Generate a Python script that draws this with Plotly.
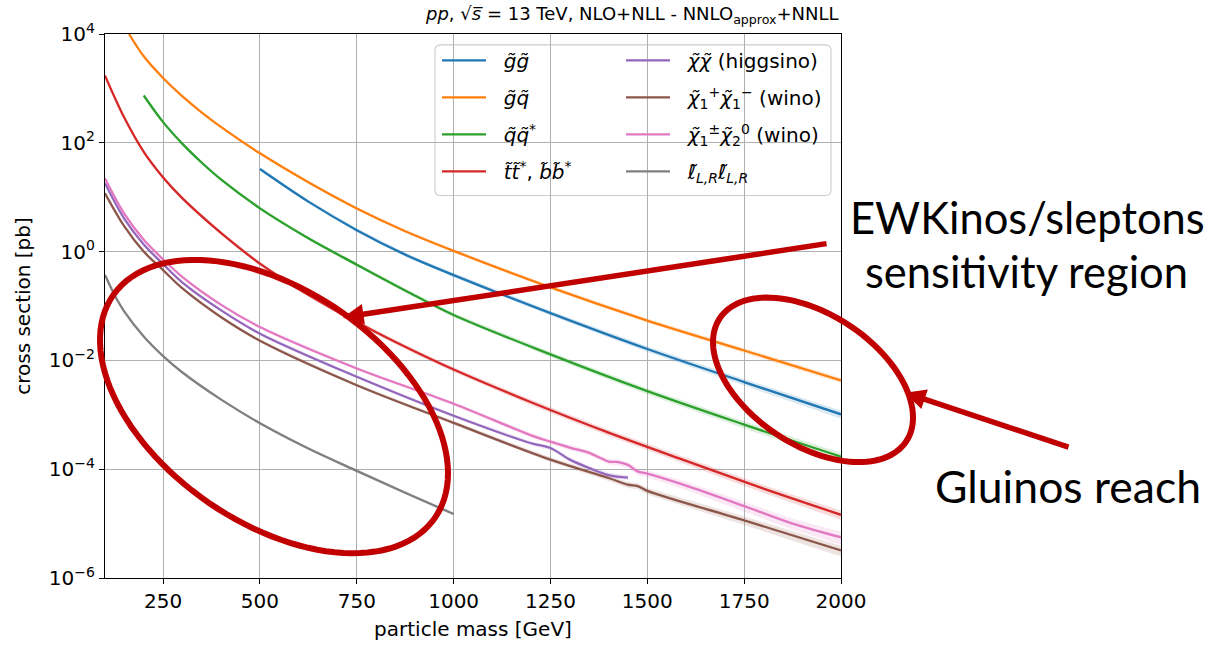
import numpy as np
import plotly.graph_objects as go

# ---------------- data ----------------
m_gg = [500, 625, 750, 875, 1000, 1250, 1500, 1750, 2000]
xs_gg = [33, 8.3, 2.48, 0.88, 0.37, 0.074, 0.0162, 0.0040, 0.00102]
unc_gg = [7, 7, 8, 8, 9, 10, 12, 14, 17]

m_gq = [162, 200, 250, 300, 350, 400, 500, 625, 750, 875, 1000, 1250, 1500, 1750, 2000]
xs_gq = [10000, 3890, 1550, 712, 359, 194, 64, 18.8, 6.2, 2.37, 1.03, 0.22, 0.054, 0.0152, 0.0043]
unc_gq = [5, 5, 5, 5, 5, 5, 5, 6, 6, 6, 7, 8, 9, 10, 12]

m_qq = [200, 250, 300, 350, 400, 500, 625, 750, 875, 1000, 1250, 1500, 1750, 2000]
xs_qq = [741, 240, 95.5, 43, 21, 6.24, 1.76, 0.575, 0.193, 0.0684, 0.0129, 0.00272, 6.6e-4, 1.7e-4]
unc_qq = [6, 6, 6, 6, 6, 7, 7, 8, 8, 9, 11, 13, 15, 18]

m_tt = [100, 150, 200, 250, 300, 400, 500, 600, 700, 800, 900, 1000, 1200, 1400, 1600, 1800, 2000]
xs_tt = [1720, 288, 68, 23, 9.5, 2.18, 0.60, 0.205, 0.079, 0.033, 0.0146, 0.0068, 0.0017,
         0.00047, 0.000142, 4.4e-5, 1.45e-5]
unc_tt = [7, 7, 7, 7, 7, 8, 8, 8, 9, 9, 10, 10, 12, 13, 15, 17, 19]

m_hh = [100, 150, 200, 250, 300, 400, 500, 750, 1000, 1200, 1250, 1300, 1350, 1400, 1450]
xs_hh = [18, 4.0, 1.35, 0.59, 0.27, 0.083, 0.031, 0.0050, 9.6e-4, 3.0e-4, 2.45e-4, 1.5e-4, 1.05e-4,
         7.8e-5, 7.0e-5]
unc_hh = [4, 4, 4, 4, 4, 5, 5, 6, 7, 8, 8, 9, 9, 10, 10]

m_c1c1 = [100, 150, 200, 250, 300, 400, 500, 750, 1000, 1250, 1400, 1450, 1475, 1500, 1750, 2000]
xs_c1c1 = [11.8, 2.9, 1.0, 0.457, 0.21, 0.062, 0.023, 0.0035, 7.1e-4, 1.5e-4, 6.9e-5, 5.2e-5, 4.9e-5,
           4.0e-5, 1.15e-5, 3.2e-6]
unc_c1c1 = [4, 4, 4, 4, 4, 5, 5, 6, 8, 10, 12, 13, 13, 14, 18, 22]

m_c1n2 = [100, 150, 200, 250, 300, 400, 500, 750, 1000, 1200, 1250, 1300, 1350, 1375, 1400, 1425,
          1450, 1475, 1500, 1600, 1750, 1875, 2000]
xs_c1n2 = [22, 4.92, 1.65, 0.72, 0.34, 0.105, 0.041, 0.0071, 0.0016, 4.2e-4, 3.2e-4, 2.5e-4, 2.0e-4,
           1.66e-4, 1.38e-4, 1.35e-4, 1.2e-4, 9.1e-5, 8.3e-5, 5.0e-5, 2.1e-5, 1.0e-5, 5.6e-6]
unc_c1n2 = [4, 4, 4, 4, 4, 5, 5, 6, 8, 10, 10, 11, 11, 12, 12, 13, 13, 14, 14, 17, 20, 23, 27]

m_ll = [100, 125, 150, 200, 250, 300, 400, 500, 625, 750, 875, 1000]
xs_ll = [0.37, 0.158, 0.079, 0.0275, 0.012, 0.0060, 0.0019, 7.0e-4, 2.4e-4, 9.3e-5, 3.7e-5, 1.5e-5]
unc_ll = [3, 3, 3, 3, 4, 4, 4, 5, 5, 6, 6, 7]

NB = "\u00a0\u00a0"
labels = [
    NB + "<i>g̃g̃</i>",
    NB + "<i>g̃q̃</i>",
    NB + "<i>q̃q̃</i><sup>*</sup>",
    NB + "<i>t̃t̃</i><sup>*</sup>, <i>b̃b̃</i><sup>*</sup>",
    NB + "<i>χ̃χ̃</i> (higgsino)",
    NB + "<i>χ̃</i><sub>1</sub><sup>+</sup><i>χ̃</i><sub>1</sub><sup>−</sup> (wino)",
    NB + "<i>χ̃</i><sub>1</sub><sup>±</sup><i>χ̃</i><sub>2</sub><sup>0</sup> (wino)",
    NB + "<i>ℓ̃</i><sub><i>L,R</i></sub><i>ℓ̃</i><sub><i>L,R</i></sub>",
]
colors = ["#1f77b4", "#ff7f0e", "#2ca02c", "#d62728", "#9467bd", "#8c564b", "#e377c2", "#7f7f7f"]
series = [
    (m_gg, xs_gg, unc_gg), (m_gq, xs_gq, unc_gq), (m_qq, xs_qq, unc_qq), (m_tt, xs_tt, unc_tt),
    (m_hh, xs_hh, unc_hh), (m_c1c1, xs_c1c1, unc_c1c1), (m_c1n2, xs_c1n2, unc_c1n2),
    (m_ll, xs_ll, unc_ll),
]
legend_of = ["legend", "legend", "legend", "legend", "legend2", "legend2", "legend2", "legend2"]

x_ticks = [250, 500, 750, 1000, 1250, 1500, 1750, 2000]
y_ticks = [1e-6, 1e-4, 1e-2, 1, 1e2, 1e4]
y_ticktext = ["10<sup>−6</sup>", "10<sup>−4</sup>", "10<sup>−2</sup>", "10<sup>0</sup>",
              "10<sup>2</sup>", "10<sup>4</sup>"]

# ---------------- layout geometry ----------------
W, H = 1209, 648
L, R, T, B = 105, 841, 34, 583


def px(x, y):
    return (x - L) / (R - L), (B - y) / (B - T)


def rgba(hexc, a):
    h = hexc.lstrip("#")
    return "rgba(%d,%d,%d,%.2f)" % (int(h[0:2], 16), int(h[2:4], 16), int(h[4:6], 16), a)


fig = go.Figure()

# uncertainty bands
for (m, xs, u), c in zip(series, colors):
    m = np.array(m, float)
    xs = np.array(xs, float)
    u = np.array(u, float) / 100.0
    up = xs * (1 + u)
    lo = xs * (1 - u)
    fig.add_trace(go.Scatter(
        x=np.concatenate([m, m[::-1]]), y=np.concatenate([up, lo[::-1]]),
        fill="toself", fillcolor=rgba(c, 0.16), line=dict(width=0), mode="lines",
        hoverinfo="skip", showlegend=False))

# central lines
for i, ((m, xs, u), c, lab) in enumerate(zip(series, colors, labels)):
    fig.add_trace(go.Scatter(
        x=m, y=xs, mode="lines", name=lab,
        line=dict(color=c, width=2.3, shape="spline", smoothing=1.0),
        legend=legend_of[i], legendgroup="g%d" % i))

# ---------------- annotation shapes ----------------
shapes = []


def ellipse_path(cx, cy, mxx, myy, mxy, n=120):
    l11 = np.sqrt(mxx)
    l21 = mxy / l11
    l22 = np.sqrt(myy - l21 ** 2)
    t = np.linspace(0, 2 * np.pi, n)
    ex = cx + l11 * np.cos(t)
    ey = cy + l21 * np.cos(t) + l22 * np.sin(t)
    pts = [px(a, b) for a, b in zip(ex, ey)]
    return "M" + " L".join("%.5f,%.5f" % p for p in pts) + " Z"


red = "#C00000"
shapes.append(dict(type="path", xref="paper", yref="paper",
                   path=ellipse_path(274, 410, 174 ** 2, 148 ** 2, 11692),
                   line=dict(color=red, width=6), layer="above"))
shapes.append(dict(type="path", xref="paper", yref="paper",
                   path=ellipse_path(813, 383, 100 ** 2, 83 ** 2, 3800),
                   line=dict(color=red, width=6), layer="above"))


# legend frame (rounded rectangle)
def rounded_rect(x0, y0, x1, y1, r):
    pts = []
    for (cx, cy, a0) in [(x1 - r, y0 + r, -90), (x1 - r, y1 - r, 0), (x0 + r, y1 - r, 90), (x0 + r, y0 + r, 180)]:
        for a in np.linspace(a0, a0 + 90, 6):
            pts.append(px(cx + r * np.cos(np.radians(a)), cy + r * np.sin(np.radians(a))))
    return "M" + " L".join("%.5f,%.5f" % p for p in pts) + " Z"


shapes.append(dict(type="path", xref="paper", yref="paper",
                   path=rounded_rect(435, 45, 831, 197, 5),
                   line=dict(color="#cccccc", width=1.1), fillcolor="rgba(255,255,255,0.85)",
                   layer="below"))

annotations = []
# title
tx, ty = px(841, 15)
annotations.append(dict(
    x=tx, y=ty, xref="paper", yref="paper", xanchor="right", yanchor="middle", showarrow=False,
    text="<i>pp</i>, √<i>s̅</i> = 13 TeV, NLO+NLL - NNLO<sub>approx</sub>+NNLL",
    font=dict(family="DejaVu Sans", size=18, color="black")))

# arrows
for tip, tail in [((343, 320), (828, 246)), ((905, 396), (1070, 451))]:
    ax_, ay_ = px(*tip)
    annotations.append(dict(
        x=ax_, y=ay_, xref="paper", yref="paper", text="", showarrow=True,
        ax=tail[0] - tip[0], ay=tail[1] - tip[1], arrowhead=2, arrowsize=0.75,
        arrowwidth=5.5, arrowcolor=red))

# big labels
for text, (cx, cy), fs in [("EWKinos/sleptons", (1027, 219), 43.5),
                           ("sensitivity region", (1026, 273), 43.5),
                           ("Gluinos reach", (1068, 490), 44.5)]:
    a, b = px(cx, cy)
    annotations.append(dict(x=a, y=b, xref="paper", yref="paper", text=text, showarrow=False,
                            xanchor="center", yanchor="middle",
                            font=dict(family="Lato", size=fs, color="black")))

axis_common = dict(showline=True, linecolor="black", linewidth=1.1, mirror=True,
                   ticks="outside", ticklen=5, tickwidth=1.1, tickcolor="black",
                   showgrid=True, gridcolor="#b0b0b0", gridwidth=1.1, zeroline=False,
                   tickfont=dict(family="DejaVu Sans", size=20, color="black"))

legend_common = dict(bgcolor="rgba(0,0,0,0)", borderwidth=0, xanchor="left", yanchor="top",
                     font=dict(family="DejaVu Sans", size=20, color="black"),
                     itemwidth=44, tracegroupgap=8, traceorder="grouped")
lx1, ly = px(437, 41)
lx2, _ = px(621, 41)

fig.update_layout(
    width=W, height=H, autosize=False,
    margin=dict(l=L, r=W - R, t=T, b=H - B),
    paper_bgcolor="white", plot_bgcolor="white",
    xaxis=dict(range=[100, 2000], tickvals=x_ticks, ticktext=[str(v) for v in x_ticks],
               title=dict(text="particle mass [GeV]", font=dict(family="DejaVu Sans", size=20, color="black"),
                          standoff=9),
               **axis_common),
    yaxis=dict(type="log", range=[-6, 4], tickvals=y_ticks, ticktext=y_ticktext,
               title=dict(text="cross section [pb]", font=dict(family="DejaVu Sans", size=20, color="black"),
                          standoff=12),
               **axis_common),
    legend=dict(x=lx1, y=ly, **legend_common),
    legend2=dict(x=lx2, y=ly, **legend_common),
    shapes=shapes,
    annotations=annotations,
)

fig.write_html("out.html")
